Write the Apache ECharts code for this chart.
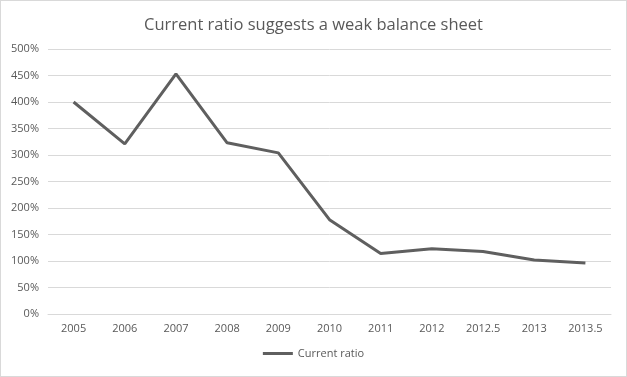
<!DOCTYPE html>
<html>
<head>
<meta charset="utf-8">
<script src="https://cdn.jsdelivr.net/npm/echarts@6/dist/echarts.min.js"></script>
<style>
  html, body { margin: 0; padding: 0; background: #fff; }
  #chart { width: 625px; height: 375px; border: 1px solid #d9d9d9; }
</style>
</head>
<body>
<div id="chart"></div>
<script>
// 数据
var years = ['2005', '2006', '2007', '2008', '2009', '2010', '2011', '2012', '2012.5', '2013', '2013.5']
var currentRatio = [400, 321, 453, 323, 304, 178, 114, 123, 118, 102, 96]

var myChart = echarts.init(document.getElementById('chart'))

var option = {
  backgroundColor: '#fff',
  textStyle: { fontFamily: 'Open Sans' },
  title: {
    text: 'Current ratio suggests a weak balance sheet',
    left: 'center',
    top: 11,
    textStyle: {
      color: '#595959',
      fontSize: 16.5,
      fontWeight: 'normal',
      fontFamily: 'Open Sans',
    },
  },
  legend: {
    bottom: 12,
    left: 'center',
    itemWidth: 30,
    itemHeight: 3,
    itemGap: 2,
    icon: 'rect',
    textStyle: { color: '#595959', fontSize: 11 },
    data: ['Current ratio'],
  },
  grid: {
    left: 47,
    right: 15,
    top: 48,
    bottom: 62,
  },
  xAxis: {
    type: 'category',
    data: years,
    boundaryGap: true,
    axisLine: { show: true, lineStyle: { color: '#d9d9d9' } },
    axisTick: { show: false },
    axisLabel: { color: '#595959', fontSize: 11, margin: 9 },
  },
  yAxis: {
    type: 'value',
    min: 0,
    max: 500,
    interval: 50,
    axisLine: { show: false },
    axisTick: { show: false },
    axisLabel: { color: '#595959', fontSize: 11, formatter: '{value}%', margin: 9 },
    splitLine: { lineStyle: { color: '#d9d9d9' } },
  },
  series: [
    {
      name: 'Current ratio',
      type: 'line',
      data: currentRatio,
      symbol: 'none',
      lineStyle: { color: '#5f5f5f', width: 3 },
      itemStyle: { color: '#5f5f5f' },
    },
  ],
}

myChart.setOption(option)
</script>
</body>
</html>
